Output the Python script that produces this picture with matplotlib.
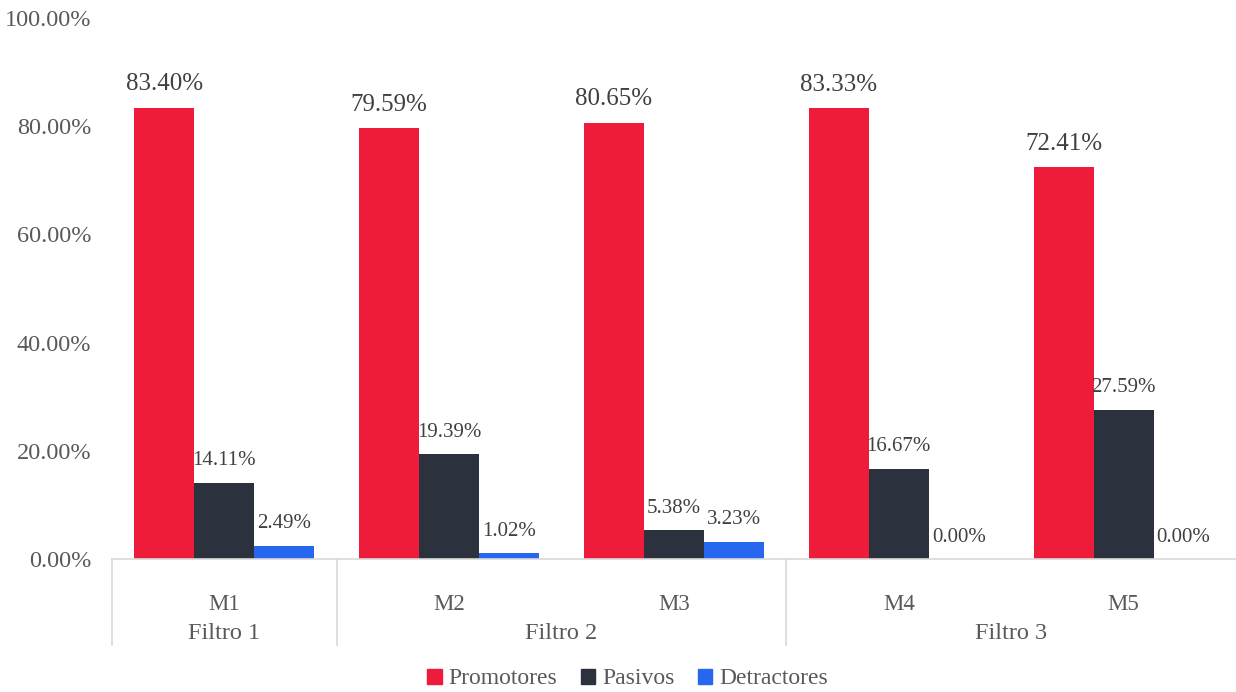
import matplotlib.pyplot as plt
import matplotlib.transforms as mtransforms
from matplotlib.ticker import FuncFormatter
from matplotlib.patches import Patch

plt.rcParams['font.family'] = ['Liberation Serif', 'DejaVu Serif']

modelos = ['M1', 'M2', 'M3', 'M4', 'M5']
filtros = ['Filtro 1', 'Filtro 2', 'Filtro 3']
filtro_de = [0, 1, 1, 2, 2]
series = ['Promotores', 'Pasivos', 'Detractores']
promotores = [83.40, 79.59, 80.65, 83.33, 72.41]
pasivos = [14.11, 19.39, 5.38, 16.67, 27.59]
detractores = [2.49, 1.02, 3.23, 0.00, 0.00]
colores = ['#EE1B3B', '#2C313E', '#2767EF']

txt = '#595959'
txt_lbl = '#404040'
linea = '#D9D9D9'

fig = plt.figure(figsize=(12.36, 6.92), dpi=100)
ax = fig.add_axes([112 / 1236, 1 - 559 / 692, 1124 / 1236, 541 / 692])

w = 60 / 225
x = list(range(len(modelos)))
for k, (vals, col) in enumerate(zip([promotores, pasivos, detractores], colores)):
    pos = [i + (k - 1) * w for i in x]
    bars = ax.bar(pos, vals, width=w, color=col, label=series[k])
    for b, v in zip(bars, vals):
        ax.annotate(f'{v:.2f}%', (b.get_x() + b.get_width() / 2, v),
                    xytext=(0, 12.5), textcoords='offset points',
                    ha='center', va='baseline', color=txt_lbl,
                    fontsize=18 if k == 0 else 15)

ax.set_xlim(-0.5, len(modelos) - 0.5)
ax.set_ylim(0, 100)
ax.set_yticks([0, 20, 40, 60, 80, 100])
ax.yaxis.set_major_formatter(FuncFormatter(lambda v, p: f'{v:.2f}%'))
ax.tick_params(axis='y', length=0, pad=15, labelsize=17.5, labelcolor=txt)
ax.set_xticks([])
for s in ['top', 'right', 'left']:
    ax.spines[s].set_visible(False)
ax.spines['bottom'].set_color(linea)
ax.spines['bottom'].set_linewidth(1.2)

# two-level category axis
tr = mtransforms.blended_transform_factory(ax.transData, ax.transAxes)
for i, m in enumerate(modelos):
    ax.text(i, -0.085, m, transform=tr, ha='center', va='center',
            fontsize=16.5, color=txt)
bordes = [-0.5]
for j in range(len(filtros)):
    idx = [i for i, f in enumerate(filtro_de) if f == j]
    ax.text((idx[0] + idx[-1]) / 2, -0.137, filtros[j], transform=tr,
            ha='center', va='center', fontsize=17.5, color=txt)
    bordes.append(idx[-1] + 0.5)
for b in bordes[:-1]:
    ax.plot([b, b], [0, -0.159], transform=tr, color=linea, lw=1.2,
            clip_on=False)

handles = [Patch(color=c, label=s) for c, s in zip(colores, series)]
fig.legend(handles=handles, loc='center', bbox_to_anchor=(0.508, 0.019),
           ncol=3, frameon=False, fontsize=17, labelcolor=txt,
           handlelength=0.6, handleheight=0.6, handletextpad=0.3,
           columnspacing=1.0)

fig.savefig('out.png', dpi=100)
